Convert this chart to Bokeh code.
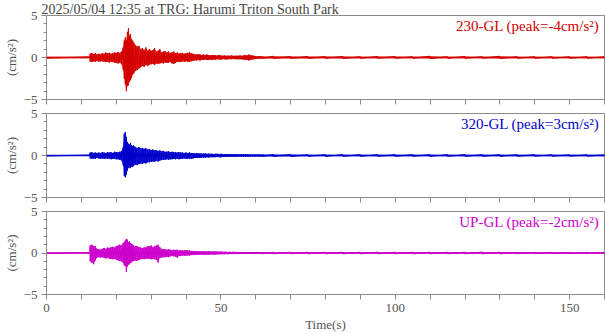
from bokeh.plotting import figure
from bokeh.layouts import column
from bokeh.models import Range1d, Label, Span, FixedTicker, ColumnDataSource
from bokeh.embed import file_html
from bokeh.resources import INLINE

# ---- data (seconds, cm/s^2 envelope of each trace) ----
T = [0, 12.4, 12.5, 13.0, 13.5, 14.0, 14.5, 15.0, 15.5, 16.0,
     16.5, 17.0, 17.5, 18.0, 18.5, 19.0, 19.5, 20.0, 20.5, 21.0,
     21.5, 22.0, 22.3, 22.6, 22.9, 23.2, 23.5, 23.8, 24.1, 24.4,
     24.7, 25.0, 25.5, 26.0, 26.5, 27.0, 27.5, 28.0, 28.5, 29.0,
     29.5, 30.0, 30.5, 31.0, 31.5, 32.0, 32.5, 33.0, 33.5, 34.0,
     34.5, 35.0, 35.5, 36.0, 36.5, 37.0, 37.5, 38.0, 38.5, 39.0,
     39.5, 40.0, 40.5, 41.0, 41.5, 42.0, 42.5, 43.0, 43.5, 44.0,
     44.5, 45.0, 45.5, 46.0, 46.5, 47.0, 47.5, 48.0, 48.5, 49.0,
     49.5, 50.0, 50.5, 51.0, 51.5, 52.0, 52.5, 53.0, 53.5, 54.0,
     54.5, 55.0, 55.5, 56.0, 56.5, 57.0, 57.5, 58.0, 58.5, 59.0,
     59.5, 60.0, 60.5, 61.0, 61.5, 62.0,
     65, 70, 75, 80, 85, 90, 95, 100, 105, 110,
     115, 120, 125, 130, 135, 140, 145, 150, 155, 160]

HI_230 = [0.08, 0.08, 0.45, 0.55, 0.4, 0.5, 0.35, 0.45, 0.4, 0.5,
          0.45, 0.6, 0.5, 0.55, 0.45, 0.5, 0.6, 0.55, 0.65, 0.55,
          0.7, 1.2, 2.0, 2.4, 2.0, 3.0, 3.5, 2.6, 2.8, 2.2,
          2.0, 1.8, 1.5, 1.3, 1.4, 1.0, 1.1, 0.9, 1.2, 0.8,
          1.0, 0.8, 0.9, 1.1, 0.7, 0.8, 1.0, 0.6, 0.7, 0.75,
          0.6, 0.7, 0.55, 0.6, 0.7, 0.5, 0.6, 0.45, 0.55, 0.5,
          0.45, 0.5, 0.55, 0.6, 0.5, 0.45, 0.4, 0.35, 0.4, 0.35,
          0.3, 0.35, 0.3, 0.35, 0.3, 0.25, 0.3, 0.3, 0.25, 0.25,
          0.3, 0.25, 0.2, 0.25, 0.2, 0.22, 0.2, 0.25, 0.2, 0.2,
          0.22, 0.2, 0.25, 0.2, 0.25, 0.3, 0.25, 0.35, 0.3, 0.25,
          0.2, 0.18, 0.15, 0.15, 0.15, 0.12,
          0.15, 0.12, 0.13, 0.12, 0.12, 0.1, 0.12, 0.12, 0.1, 0.15,
          0.1, 0.12, 0.1, 0.15, 0.1, 0.1, 0.1, 0.1, 0.1, 0.1]
LO_230 = [-0.08, -0.08, -0.5, -0.55, -0.45, -0.5, -0.4, -0.5, -0.45, -0.45,
          -0.5, -0.55, -0.5, -0.6, -0.5, -0.55, -0.6, -0.65, -0.7, -0.6,
          -0.8, -1.5, -2.5, -3.2, -4.0, -3.4, -3.3, -2.9, -2.7, -2.4,
          -2.0, -1.9, -1.6, -1.5, -1.3, -1.15, -1.0, -1.1, -0.9, -1.0,
          -0.85, -0.8, -0.75, -0.9, -0.7, -0.75, -0.7, -0.65, -0.7, -0.6,
          -0.65, -0.6, -0.55, -0.7, -0.75, -0.6, -0.55, -0.5, -0.55, -0.45,
          -0.5, -0.45, -0.5, -0.5, -0.45, -0.4, -0.35, -0.35, -0.3, -0.35,
          -0.3, -0.3, -0.25, -0.3, -0.3, -0.25, -0.3, -0.25, -0.25, -0.2,
          -0.25, -0.25, -0.2, -0.2, -0.25, -0.2, -0.2, -0.2, -0.18, -0.2,
          -0.2, -0.2, -0.22, -0.2, -0.25, -0.3, -0.28, -0.35, -0.3, -0.25,
          -0.2, -0.18, -0.15, -0.15, -0.12, -0.12,
          -0.12, -0.12, -0.12, -0.1, -0.12, -0.1, -0.1, -0.1, -0.1, -0.12,
          -0.1, -0.1, -0.1, -0.12, -0.1, -0.1, -0.1, -0.1, -0.1, -0.1]

HI_320 = [0.06, 0.06, 0.35, 0.4, 0.3, 0.35, 0.3, 0.35, 0.3, 0.4,
          0.35, 0.3, 0.4, 0.35, 0.4, 0.3, 0.45, 0.4, 0.4, 0.45,
          0.5, 1.0, 2.6, 2.8, 2.2, 1.6, 1.4, 1.3, 1.5, 1.2,
          1.1, 1.2, 1.0, 0.9, 1.0, 0.85, 0.9, 0.8, 0.85, 0.7,
          0.75, 0.65, 0.7, 0.6, 0.65, 0.55, 0.6, 0.5, 0.55, 0.45,
          0.45, 0.5, 0.4, 0.45, 0.4, 0.4, 0.35, 0.4, 0.35, 0.35,
          0.3, 0.35, 0.3, 0.35, 0.3, 0.3, 0.25, 0.3, 0.25, 0.25,
          0.25, 0.22, 0.25, 0.2, 0.22, 0.2, 0.2, 0.18, 0.2, 0.2,
          0.18, 0.2, 0.18, 0.15, 0.18, 0.15, 0.18, 0.15, 0.15, 0.18,
          0.15, 0.15, 0.13, 0.15, 0.13, 0.15, 0.15, 0.13, 0.13, 0.12,
          0.13, 0.12, 0.12, 0.12, 0.12, 0.12,
          0.12, 0.12, 0.1, 0.1, 0.1, 0.1, 0.1, 0.1, 0.1, 0.1,
          0.1, 0.1, 0.1, 0.1, 0.1, 0.1, 0.08, 0.08, 0.08, 0.08]
LO_320 = [-0.06, -0.06, -0.35, -0.4, -0.35, -0.4, -0.3, -0.35, -0.4, -0.35,
          -0.4, -0.35, -0.4, -0.35, -0.45, -0.4, -0.4, -0.45, -0.45, -0.5,
          -0.6, -1.2, -2.4, -2.6, -2.3, -1.8, -1.5, -1.4, -1.5, -1.3,
          -1.35, -1.2, -1.1, -1.15, -1.0, -0.95, -1.0, -0.9, -0.95, -0.8,
          -0.8, -0.75, -0.7, -0.75, -0.65, -0.7, -0.6, -0.55, -0.5, -0.5,
          -0.45, -0.5, -0.45, -0.45, -0.4, -0.45, -0.4, -0.45, -0.4, -0.4,
          -0.35, -0.4, -0.4, -0.35, -0.4, -0.35, -0.3, -0.3, -0.3, -0.3,
          -0.25, -0.25, -0.25, -0.22, -0.25, -0.2, -0.2, -0.2, -0.2, -0.18,
          -0.2, -0.22, -0.18, -0.18, -0.15, -0.18, -0.15, -0.15, -0.15, -0.15,
          -0.15, -0.15, -0.13, -0.15, -0.13, -0.15, -0.13, -0.15, -0.13, -0.12,
          -0.13, -0.12, -0.12, -0.12, -0.12, -0.12,
          -0.12, -0.12, -0.1, -0.1, -0.1, -0.1, -0.1, -0.1, -0.1, -0.1,
          -0.1, -0.1, -0.1, -0.1, -0.1, -0.08, -0.08, -0.08, -0.08, -0.08]

HI_UP = [0.06, 0.06, 0.9, 1.0, 0.85, 0.8, 0.5, 0.45, 0.4, 0.5,
         0.6, 0.5, 0.65, 0.6, 0.7, 0.75, 0.65, 0.8, 0.9, 1.0,
         0.9, 1.2, 1.3, 1.5, 1.7, 1.6, 1.3, 1.4, 1.2, 1.1,
         1.0, 0.9, 0.8, 0.85, 0.7, 0.65, 0.6, 0.65, 0.7, 0.85,
         0.8, 0.9, 0.7, 0.8, 0.9, 1.0, 0.7, 0.5, 0.45, 0.45,
         0.4, 0.45, 0.4, 0.35, 0.4, 0.35, 0.4, 0.3, 0.35, 0.3,
         0.3, 0.35, 0.3, 0.3, 0.25, 0.25, 0.22, 0.25, 0.2, 0.22,
         0.2, 0.2, 0.2, 0.18, 0.2, 0.22, 0.18, 0.2, 0.18, 0.18,
         0.15, 0.18, 0.15, 0.15, 0.15, 0.13, 0.15, 0.13, 0.15, 0.13,
         0.13, 0.13, 0.12, 0.13, 0.12, 0.13, 0.12, 0.12, 0.12, 0.12,
         0.12, 0.12, 0.1, 0.12, 0.1, 0.1,
         0.1, 0.1, 0.1, 0.1, 0.1, 0.1, 0.1, 0.1, 0.1, 0.1,
         0.1, 0.1, 0.12, 0.1, 0.08, 0.08, 0.08, 0.08, 0.08, 0.08]
LO_UP = [-0.06, -0.06, -1.0, -1.15, -1.35, -0.9, -0.55, -0.5, -0.55, -0.5,
         -0.6, -0.65, -0.6, -0.7, -0.7, -0.75, -0.7, -0.8, -0.9, -0.95,
         -1.0, -1.2, -1.5, -1.55, -2.3, -1.6, -1.4, -1.35, -1.2, -1.1,
         -1.0, -0.95, -0.9, -0.95, -0.8, -0.75, -0.7, -0.75, -0.7, -0.7,
         -0.7, -0.75, -0.7, -0.75, -0.8, -1.15, -0.6, -0.55, -0.5, -0.5,
         -0.45, -0.5, -0.4, -0.35, -0.4, -0.45, -0.55, -0.35, -0.35, -0.3,
         -0.35, -0.3, -0.3, -0.3, -0.25, -0.25, -0.25, -0.22, -0.22, -0.2,
         -0.2, -0.2, -0.2, -0.2, -0.2, -0.18, -0.18, -0.2, -0.18, -0.18,
         -0.15, -0.15, -0.15, -0.15, -0.13, -0.15, -0.13, -0.13, -0.13, -0.13,
         -0.13, -0.12, -0.13, -0.12, -0.12, -0.12, -0.12, -0.12, -0.12, -0.12,
         -0.12, -0.1, -0.1, -0.1, -0.1, -0.1,
         -0.1, -0.1, -0.1, -0.1, -0.1, -0.1, -0.1, -0.1, -0.1, -0.1,
         -0.1, -0.1, -0.1, -0.1, -0.08, -0.08, -0.08, -0.08, -0.08, -0.08]

LABELS = ["230-GL (peak=-4cm/s\u00b2)", "320-GL (peak=3cm/s\u00b2)", "UP-GL (peak=-2cm/s\u00b2)"]
COLORS = ["#d40000", "#0000cc", "#cc00cc"]
TITLE = "2025/05/04 12:35 at TRG: Harumi Triton South Park"
X_TICKS = [0, 50, 100, 150]
X_MINOR = [10, 20, 30, 40, 60, 70, 80, 90, 110, 120, 130, 140, 160]
Y_TICKS = [-5, 0, 5]
Y_MINOR = [-4, -3, -2, -1, 1, 2, 3, 4]

FONT = "Liberation Serif"
AX = "#8c8c8c"
TXT = "#555555"


def zigzag(hi, lo):
    xs, ys = [], []
    for t, h, l in zip(T, hi, lo):
        xs += [t, t]
        ys += [h, l]
    return xs, ys


def panel(hi, lo, color, label, height, top, bottom, last):
    p = figure(width=605, height=height, x_range=Range1d(0, 160), y_range=Range1d(-5, 5),
               output_backend="svg", toolbar_location=None,
               min_border_left=42, min_border_right=1,
               min_border_top=top, min_border_bottom=bottom)
    p.grid.visible = False
    p.outline_line_color = AX
    p.outline_line_width = 1
    p.background_fill_color = "white"
    p.border_fill_color = "white"

    n = min(len(T), len(hi), len(lo))
    src = ColumnDataSource(dict(t=T[:n], hi=hi[:n], lo=lo[:n]))
    p.varea(x="t", y1="lo", y2="hi", source=src, fill_color=color, fill_alpha=0.8)
    xs, ys = zigzag(hi, lo)
    p.line(xs, ys, line_color=color, line_width=1)
    p.add_layout(Span(location=0, dimension="width", line_color=color, line_width=1.5))

    p.add_layout(Label(x=158.5, y=5, y_offset=-2, text=label, text_align="right",
                       text_baseline="top", text_color=color, text_font=FONT,
                       text_font_size="15px"))

    ya = p.yaxis[0]
    ya.ticker = FixedTicker(ticks=Y_TICKS, minor_ticks=Y_MINOR)
    ya.axis_label = "(cm/s\u00b2)"
    ya.axis_label_text_font = FONT
    ya.axis_label_text_font_size = "13px"
    ya.axis_label_text_font_style = "normal"
    ya.axis_label_text_color = TXT
    ya.axis_label_standoff = 2
    ya.major_label_text_font = FONT
    ya.major_label_text_font_size = "13px"
    ya.major_label_text_color = TXT
    ya.major_label_standoff = 4
    ya.axis_line_color = AX
    ya.major_tick_line_color = AX
    ya.minor_tick_line_color = AX
    ya.major_tick_out = 5
    ya.major_tick_in = 0
    ya.minor_tick_out = 3
    ya.minor_tick_in = 0

    xa = p.xaxis[0]
    xa.ticker = FixedTicker(ticks=X_TICKS, minor_ticks=X_MINOR)
    xa.axis_line_color = AX
    xa.major_tick_line_color = AX
    xa.minor_tick_line_color = AX
    xa.major_tick_out = 5
    xa.major_tick_in = 0
    xa.minor_tick_out = 5
    xa.minor_tick_in = 0
    xa.major_label_text_font = FONT
    xa.major_label_text_color = TXT
    xa.major_label_text_font_size = "13px"
    if last:
        xa.major_label_standoff = 4
        xa.axis_label = "Time(s)"
        xa.axis_label_text_font = FONT
        xa.axis_label_text_font_size = "13px"
        xa.axis_label_text_font_style = "normal"
        xa.axis_label_text_color = TXT
        xa.axis_label_standoff = 2
    else:
        xa.major_label_overrides = {k: "" for k in X_TICKS}
        xa.major_label_standoff = 0
    return p


p1 = panel(HI_230, LO_230, COLORS[0], LABELS[0], 106, 0, 7, False)
p1.title.text = TITLE
p1.title.align = "left"
p1.title.text_font = FONT
p1.title.text_font_size = "14px"
p1.title.text_font_style = "normal"
p1.title.text_color = "#444444"
p1.title.standoff = -2
p1.title.offset = -5
p2 = panel(HI_320, LO_320, COLORS[1], LABELS[1], 98, 7, 7, False)
p3 = panel(HI_UP, LO_UP, COLORS[2], LABELS[2], 130, 7, 39, True)

layout = column(p1, p2, p3, spacing=0)
open("out.html", "w").write(file_html(layout, INLINE))
